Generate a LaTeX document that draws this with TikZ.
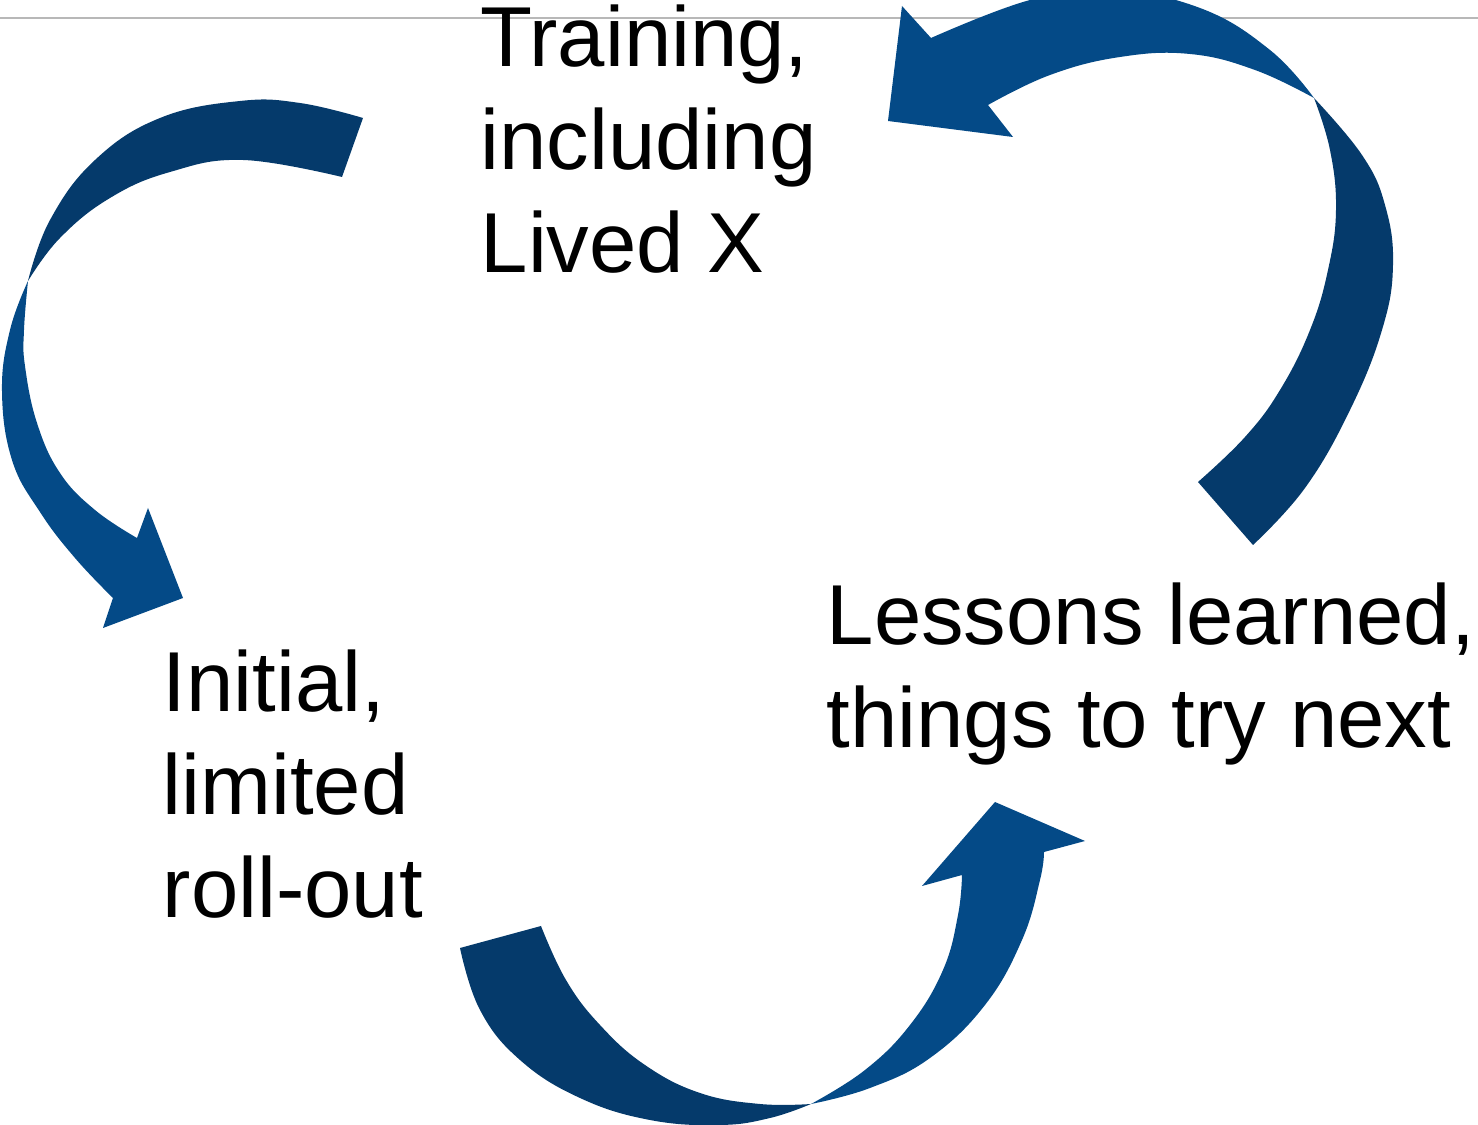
\documentclass[tikz,border=0pt]{standalone}
\usepackage{fontspec}
\setmainfont{Liberation Sans}
\usepackage{xcolor}
\usetikzlibrary{positioning}
\definecolor{tailblue}{RGB}{5,58,107}
\definecolor{headblue}{RGB}{4,74,135}
\definecolor{rulegray}{RGB}{184,184,184}

\begin{document}
\begin{tikzpicture}[x=0.01cm, y=-0.01cm]

	\tikzstyle{phase} = [anchor=base west, align=left, inner sep=0pt, font=\fontsize{24.2}{29.3}\selectfont]
	\tikzstyle{tail} = [fill=tailblue, draw=none]
	\tikzstyle{head} = [fill=headblue, draw=none]
	\tikzstyle{curvy} = [smooth, tension=0.7]
	\useasboundingbox (0,0) rectangle (1478,1125);
	\clip (0,0) rectangle (1478,1125);
	\draw[rulegray, line width=0.6pt] (0,18) -- (1478,18);

	% training -> roll-out
	\fill[tail] plot[curvy] coordinates {(363,118) (300,103) (240,101) (160,118) (95,160) (50,220) (28,281)}
		-- plot[curvy] coordinates {(28,281) (60,238) (110,198) (170,172) (243,160) (342,177)} -- cycle;
	\fill[head] plot[curvy] coordinates {(28,281) (10,330) (2,391) (12,460) (40,512) (75,558) (113,598)}
		-- (103,628) -- (183,598) -- (148,508) -- (137,538)
		-- plot[curvy] coordinates {(137,538) (95,510) (60,473) (37,423) (25,366) (24,330) (28,281)} -- cycle;

	% roll-out -> lessons
	\fill[tail] plot[curvy] coordinates {(460,948) (480,1010) (520,1060) (580,1098) (650,1120) (720,1125) (770,1118) (811,1104)}
		-- plot[curvy] coordinates {(811,1104) (760,1104) (700,1093) (645,1065) (600,1025) (566,980) (541,926)} -- cycle;
	\fill[head] plot[curvy] coordinates {(811,1104) (870,1088) (930,1058) (985,1005) (1022,940) (1040,880) (1044,852)}
		-- (1085,841) -- (995,802) -- (922,886) -- (962,875)
		-- plot[curvy] coordinates {(962,875) (958,915) (943,970) (910,1025) (865,1070) (811,1104)} -- cycle;

	% lessons -> training
	\fill[tail] plot[curvy] coordinates {(1253,545) (1305,488) (1350,410) (1382,330) (1393,265) (1385,205) (1362,155) (1314,98)}
		-- plot[curvy] coordinates {(1314,98) (1330,150) (1336,210) (1328,270) (1310,330) (1280,390) (1245,437) (1198,482)} -- cycle;
	\fill[head] plot[curvy] coordinates {(1314,98) (1270,50) (1200,8) (1110,-10) (1030,0) (931,38)}
		-- (902,6) -- (888,121) -- (1013,137) -- (988,105)
		-- plot[curvy] coordinates {(988,105) (1050,75) (1120,57) (1190,54) (1255,70) (1314,98)} -- cycle;

	\node[phase] (training) at (480,273) {Training,\\including\\Lived X};
	\node[phase] (lessons) at (826,748) {Lessons learned,\\things to try next};
	\node[phase] (rollout) at (162,918) {Initial,\\limited\\roll-out};

\end{tikzpicture}
\end{document}
